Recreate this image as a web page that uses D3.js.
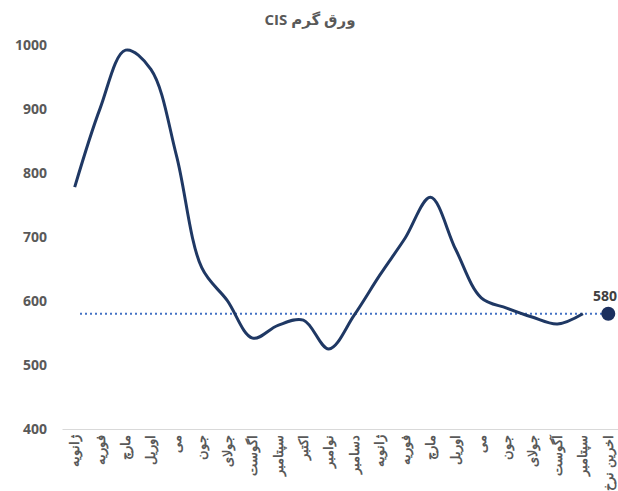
<!DOCTYPE html>
<html>
<head>
<meta charset="utf-8">
<script src="https://cdn.jsdelivr.net/npm/d3@7"></script>
<style>
  body { margin: 0; background: #fff; }
  svg { display: block; font-family: "Open Sans", "DejaVu Sans", sans-serif; }
</style>
</head>
<body>
<svg id="chart"></svg>
<script>
const w = 618
const h = 491

const months = ['ژانویه', 'فوریه', 'مارچ', 'اوریل', 'می', 'جون', 'جولای', 'اگوست', 'سپتامبر', 'اکتبر', 'نوامبر', 'دسامبر',
	'ژانویه', 'فوریه', 'مارچ', 'اوریل', 'می', 'جون', 'جولای', 'آگوست', 'سپتامبر', 'اخرین نرخ']
const prices = [778, 901, 992, 962, 828, 652, 601, 542, 562, 570, 525, 578,
	640, 698, 762, 680, 605, 589, 575, 564, 580]
const lastRate = 580
const yTicks = [400, 500, 600, 700, 800, 900, 1000]
const title = 'ورق گرم CIS'

const margin = { left: 62, right: 0, top: 45, bottom: 62 }

const SVG = d3.select('#chart').attr('width', w).attr('height', h)

// keys are indexes since month names repeat
const xScale = d3.scaleBand()
	.domain(months.map((_, i) => i))
	.range([margin.left, 621])
const xc = i => xScale(i) + xScale.bandwidth() / 2

const yScale = d3.scaleLinear()
	.domain([400, 1000])
	.range([h - margin.bottom, margin.top])

// title (rtl so CIS sits on the left)
SVG.append('text')
	.attr('x', 310).attr('y', 25)
	.attr('text-anchor', 'middle')
	.attr('direction', 'rtl')
	.attr('font-size', 15).attr('font-weight', 'bold')
	.attr('fill', '#595959')
	.text(title)

// y axis labels only
const yAxis = SVG.append('g')
	.attr('transform', `translate(${47}, 0)`)
	.call(d3.axisLeft(yScale).tickValues(yTicks).tickSize(0).tickPadding(0).tickFormat(d3.format('d')))
yAxis.select('.domain').remove()
yAxis.selectAll('text')
	.attr('font-size', 14).attr('font-weight', 'bold')
	.attr('fill', '#595959')
	.attr('font-family', '"Open Sans", sans-serif')

// x axis
const xAxis = SVG.append('g')
	.attr('transform', `translate(0, ${yScale(400)})`)
	.call(d3.axisBottom(xScale).tickSize(0).tickFormat(i => months[i]))
xAxis.select('.domain').attr('stroke', '#d9d9d9').attr('stroke-width', 1)
xAxis.selectAll('text')
	.attr('font-size', 13).attr('font-weight', 'bold')
	.attr('fill', '#595959')
	.attr('text-anchor', 'end')
	.attr('dy', '0.35em')
	.attr('transform', 'translate(0, 6) rotate(-90)')
	.attr('x', 0).attr('y', 0)

// reference line at last rate
SVG.append('line')
	.attr('x1', 80).attr('x2', xc(months.length - 1))
	.attr('y1', yScale(lastRate)).attr('y2', yScale(lastRate))
	.attr('stroke', '#4472c4')
	.attr('stroke-width', 2)
	.attr('stroke-dasharray', '2, 3')

// price line
const line = d3.line()
	.x((_, i) => xc(i))
	.y(d => yScale(d))
	.curve(d3.curveCatmullRom.alpha(0.5))

SVG.append('path')
	.attr('d', line(prices))
	.attr('fill', 'none')
	.attr('stroke', '#1f3864')
	.attr('stroke-width', 3)

// last rate dot
SVG.append('circle')
	.attr('cx', xc(months.length - 1)).attr('cy', yScale(lastRate))
	.attr('r', 7)
	.attr('fill', '#1b2f5e')

SVG.append('text')
	.attr('x', 617).attr('y', yScale(lastRate) - 13)
	.attr('text-anchor', 'end')
	.attr('font-size', 14).attr('font-weight', 'bold')
	.attr('fill', '#404040')
	.text(lastRate)
</script>
</body>
</html>
